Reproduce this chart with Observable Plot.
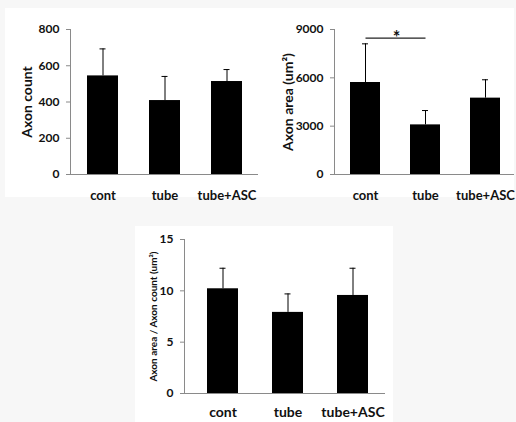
<!DOCTYPE html>
<html><head><meta charset="utf-8">
<script src="https://cdn.jsdelivr.net/npm/d3@7"></script>
<script src="https://cdn.jsdelivr.net/npm/@observablehq/plot@0.6"></script>
<style>
html,body{margin:0;padding:0;background:#f7f7f7;width:516px;height:422px;overflow:hidden;font-family:Lato,sans-serif}
.panel{position:absolute;background:#fff}
.chart{position:absolute}
.chart svg{display:block}
</style></head><body>
<div class="panel" style="left:5px;top:8px;width:509px;height:189px"></div>
<div class="panel" style="left:135px;top:226px;width:258px;height:196px"></div>
<div id="c1" class="chart" style="left:5px;top:8px"></div>
<div id="c2" class="chart" style="left:258px;top:8px"></div>
<div id="c3" class="chart" style="left:135px;top:226px"></div>
<script>
const groups = ["cont", "tube", "tube+ASC"];
const countMean = [544, 408, 513];
const countSD = [149, 133, 66];
const areaMean = [5710, 3080, 4740];
const areaSD = [2400, 890, 1140];
const ratioMean = [10.2, 7.9, 9.55];
const ratioSD = [2.0, 1.8, 2.65];
const countTicks = [0, 200, 400, 600, 800];
const areaTicks = [0, 3000, 6000, 9000];
const ratioTicks = [0, 5, 10, 15];
const countLabel = "Axon count";
const areaLabel = "Axon area (um\u00B2)";
const ratioLabel = "Axon area / Axon count (um\u00B2)";
const sigPair = ["cont", "tube"];
const sigLevel = 8460;
const sigMark = "*";

function chart(o) {
  const data = groups.map((g, i) => ({group: g, mean: o.mean[i], top: o.mean[i] + o.sd[i]}));
  const marks = [
    Plot.barY(data, {x: "group", y: "mean", fill: "#000"}),
    Plot.ruleX(data, {x: "group", y1: "mean", y2: "top", stroke: "#000", strokeWidth: 1}),
    Plot.tickY(data, {x: "group", y: "top", stroke: "#000", strokeWidth: 1, insetLeft: o.capInset, insetRight: o.capInset}),
    Plot.ruleY([0], {stroke: "#8a8a8a"}),
    Plot.frame({anchor: "left", stroke: "#8a8a8a"}),
    Plot.axisY(o.ticks, {tickSize: 4, tickPadding: 7, stroke: "#8a8a8a", fill: "#111", fontSize: 12, tickFormat: d => String(d), label: null}),
    Plot.axisX({tickSize: 0, tickPadding: o.xPadText, fontSize: o.xFont, fill: "#111", label: null}),
    Plot.text([o.label], {text: d => d, frameAnchor: "left", textAnchor: "middle", lineAnchor: "middle", rotate: -90, dx: o.labelDx, fontSize: o.labelSize, fill: "#111"})
  ];
  if (o.sig) {
    marks.push(Plot.link([o.sig], {x1: d => d.pair[0], x2: d => d.pair[1], y1: d => d.level, y2: d => d.level, stroke: "#222", strokeWidth: 1.2}));
    marks.push(Plot.text([o.sig], {x: d => d.pair[0], y: d => d.level, text: d => d.mark, dx: 31, fontSize: 18, fill: "#111"}));
  }
  return Plot.plot({
    width: o.width, height: o.height,
    marginLeft: o.m[0], marginRight: o.m[1], marginTop: o.m[2], marginBottom: o.m[3],
    style: {fontFamily: "Lato, sans-serif", fontWeight: "bold", background: "transparent", color: "#111", overflow: "visible"},
    x: {domain: groups, paddingInner: o.pad[0], paddingOuter: o.pad[1], align: o.pad[2], axis: null},
    y: {domain: [0, o.ticks[o.ticks.length - 1]], axis: null},
    marks
  });
}

document.getElementById("c1").append(chart({
  mean: countMean, sd: countSD, ticks: countTicks, label: countLabel,
  width: 253, height: 189, m: [65, 0, 21, 23], pad: [0.5, 0.266, 0.5],
  capInset: 12.5, xPadText: 16, xFont: 13, labelDx: -43, labelSize: 14
}));
document.getElementById("c2").append(chart({
  mean: areaMean, sd: areaSD, ticks: areaTicks, label: areaLabel,
  width: 256, height: 189, m: [76, 0, 21, 23], pad: [0.5, 0.245, 0.54],
  capInset: 12, xPadText: 16, xFont: 13, labelDx: -46, labelSize: 14,
  sig: {pair: sigPair, level: sigLevel, mark: sigMark}
}));
document.getElementById("c3").append(chart({
  mean: ratioMean, sd: ratioSD, ticks: ratioTicks, label: ratioLabel,
  width: 258, height: 196, m: [49, 8, 13, 29], pad: [0.525, 0.30, 0.58],
  capInset: 12.5, xPadText: 14, xFont: 14, labelDx: -31, labelSize: 10
}));
</script>
</body></html>
